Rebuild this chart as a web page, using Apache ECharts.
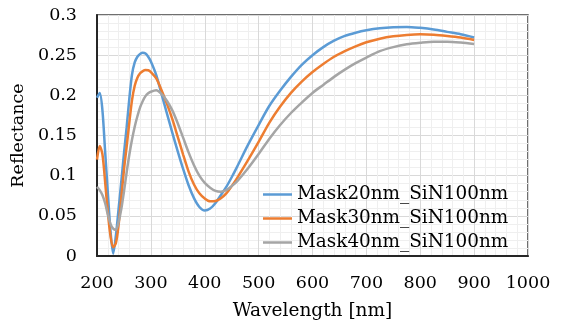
<!DOCTYPE html>
<html>
<head>
<meta charset="utf-8">
<script src="https://cdn.jsdelivr.net/npm/echarts@6/dist/echarts.min.js"></script>
<style>html,body{margin:0;padding:0;background:#fff}#c{width:561px;height:330px}</style>
</head>
<body>
<div id="c"></div>
<script>
var wavelength = [200,205,210,215,220,225,230,235,240,245,250,255,260,265,270,275,280,285,290,295,300,310,320,330,340,350,360,370,380,390,400,410,420,430,440,450,460,480,500,520,540,560,580,600,620,640,660,680,700,725,750,775,800,825,850,875,900];
var mask20 = [0.197,0.203,0.182,0.131,0.080,0.032,0.003,0.025,0.058,0.092,0.127,0.160,0.196,0.226,0.241,0.248,0.2515,0.253,0.252,0.248,0.242,0.225,0.201,0.177,0.153,0.130,0.108,0.088,0.072,0.061,0.0565,0.059,0.066,0.076,0.086,0.098,0.111,0.138,0.163,0.187,0.206,0.223,0.238,0.250,0.260,0.268,0.274,0.278,0.281,0.2835,0.2848,0.2852,0.284,0.282,0.279,0.276,0.272];
var mask30 = [0.120,0.137,0.127,0.093,0.055,0.025,0.011,0.016,0.038,0.072,0.107,0.136,0.166,0.194,0.212,0.222,0.2275,0.2302,0.2315,0.2312,0.229,0.221,0.206,0.189,0.170,0.148,0.126,0.105,0.089,0.078,0.0715,0.068,0.0685,0.072,0.078,0.087,0.097,0.119,0.142,0.166,0.186,0.203,0.217,0.229,0.239,0.248,0.255,0.261,0.266,0.2705,0.2735,0.2752,0.276,0.2755,0.274,0.272,0.269];
var mask40 = [0.086,0.082,0.076,0.066,0.052,0.040,0.034,0.0325,0.042,0.058,0.080,0.104,0.126,0.145,0.161,0.174,0.185,0.193,0.199,0.2025,0.2045,0.2063,0.2015,0.193,0.181,0.165,0.147,0.129,0.113,0.100,0.091,0.085,0.081,0.080,0.082,0.087,0.093,0.109,0.127,0.146,0.163,0.178,0.191,0.203,0.213,0.223,0.232,0.240,0.247,0.255,0.260,0.2635,0.2655,0.2668,0.2668,0.2658,0.264];
var seriesNames = ['Mask20nm_SiN100nm','Mask30nm_SiN100nm','Mask40nm_SiN100nm'];
var seriesColors = ['#5B9BD5','#ED7D31','#A5A5A5'];

function pairs(vals){ return wavelength.map(function(w,i){ return [w, vals[i]]; }); }
var allVals = [mask20, mask30, mask40];
var FONT = 'DejaVu Serif';

var chart = echarts.init(document.getElementById('c'), null, {renderer:'canvas'});
chart.setOption({
  animation: false,
  backgroundColor: '#ffffff',
  color: seriesColors,
  grid: {left: 97, right: 33, top: 15, bottom: 74, show: true, borderColor: '#404040', borderWidth: 1.5, containLabel: false},
  legend: {
    orient: 'vertical', left: 258, top: 180,
    icon: 'rect', itemWidth: 29, itemHeight: 2.5, itemGap: 5,
    backgroundColor: 'transparent',
    textStyle: {fontFamily: FONT, fontSize: 18.4, color: '#000', lineHeight: 19},
    data: seriesNames
  },
  xAxis: {
    type: 'value', min: 200, max: 1000, interval: 100,
    name: 'Wavelength [nm]', nameLocation: 'middle', nameGap: 46,
    nameTextStyle: {fontFamily: FONT, fontSize: 18.5, color: '#000'},
    axisLine: {show: true, lineStyle: {color: '#262626', width: 2}},
    axisTick: {show: false},
    axisLabel: {fontFamily: FONT, fontSize: 17.5, color: '#000', margin: 18, formatter: function(v){ return String(v); }},
    splitLine: {show: true, lineStyle: {color: '#d9d9d9', width: 1}},
    minorTick: {show: false, splitNumber: 5},
    minorSplitLine: {show: true, lineStyle: {color: '#efefef', width: 1}}
  },
  yAxis: {
    type: 'value', min: 0, max: 0.3, interval: 0.05,
    name: 'Reflectance', nameLocation: 'middle', nameGap: 59,
    nameTextStyle: {fontFamily: FONT, fontSize: 17.5, color: '#000'},
    axisLine: {show: true, lineStyle: {color: '#262626', width: 2}},
    axisTick: {show: false},
    axisLabel: {fontFamily: FONT, fontSize: 17.5, color: '#000', margin: 20},
    splitLine: {show: true, lineStyle: {color: '#d9d9d9', width: 1}},
    minorTick: {show: false, splitNumber: 5},
    minorSplitLine: {show: true, lineStyle: {color: '#efefef', width: 1}}
  },
  series: seriesNames.map(function(n, i){
    return {
      name: n, type: 'line', data: pairs(allVals[i]),
      symbol: 'none', smooth: 0.3,
      lineStyle: {width: 2.5, color: seriesColors[i]},
      itemStyle: {color: seriesColors[i]}
    };
  })
});
</script>
</body>
</html>
